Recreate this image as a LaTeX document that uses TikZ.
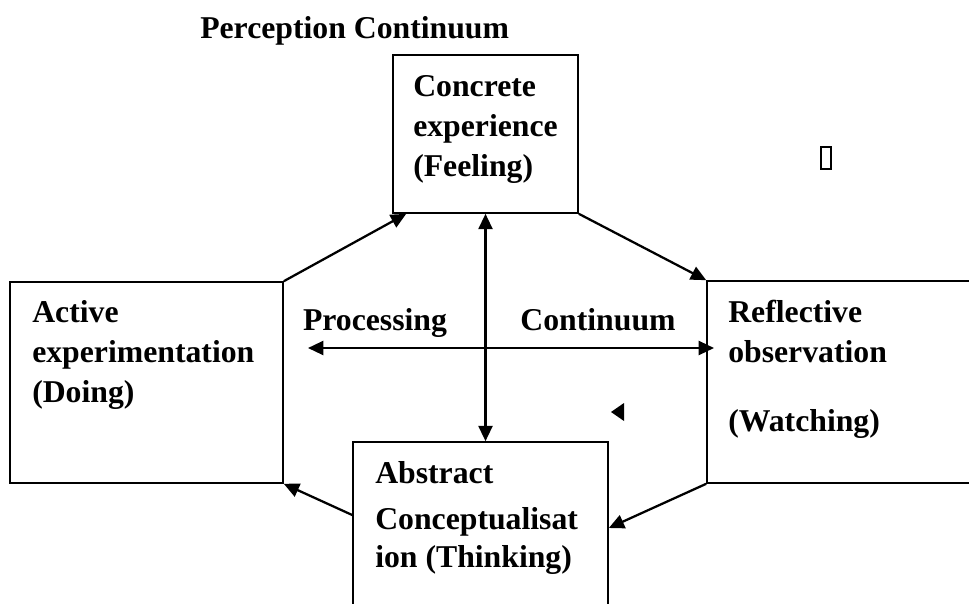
\documentclass[tikz,border=0pt]{standalone}
\usepackage{fontspec}
\setmainfont{Liberation Serif}
\usetikzlibrary{arrows.meta}

\begin{document}
\begin{tikzpicture}[x=0.75pt, y=-0.75pt,
  stage/.style={draw, line width=1.2pt, inner sep=0pt},
  lbl/.style={anchor=base west, inner sep=0pt, font=\fontsize{23.8}{30}\selectfont\bfseries},
  flow/.style={line width=1.7pt},
  >={Triangle[length=11.5pt, width=10.5pt]}]
\useasboundingbox (0,0) rectangle (969,603);
% the four stages
\node[stage, minimum width=138.75pt, minimum height=118.5pt] (ce) at (485.5,134){};
\node[stage, minimum width=204.75pt, minimum height=150.75pt] (ae) at (146.5,382.5){};
\node[stage, minimum width=212.25pt, minimum height=151.5pt] (ro) at (848.5,382){};
\node[stage, minimum width=191.25pt, minimum height=129pt] (ac) at (480.5,528){};
% texts
\node[lbl] (title) at (200,38){Perception Continuum};
\node[lbl] (ceText) at (413,96){\begin{tabular}[t]{@{}l@{}}Concrete\\experience\\(Feeling)\end{tabular}};
\node[lbl] (aeText) at (32,322){\begin{tabular}[t]{@{}l@{}}Active\\experimentation\\(Doing)\end{tabular}};
\node[lbl] (roText) at (728,322){\begin{tabular}[t]{@{}l@{}}Reflective\\observation\\[21.75pt](Watching)\end{tabular}};
\node[lbl] (acText) at (375,483){\begin{tabular}[t]{@{}l@{}}Abstract\\[5pt]Conceptualisat\\[-1.5pt]ion (Thinking)\end{tabular}};
\node[lbl, anchor=base] (proc) at (375,330){Processing};
\node[lbl, anchor=base] (cont) at (598,330){Continuum};
% cycle
\draw[flow, ->](ae.north east) -- ([xshift=10.5pt]ce.south west);
\draw[flow, ->](ce.south east) -- (ro.north west);
\draw[flow, ->](ro.south west) -- (ac.east);
\draw[flow, ->]([yshift=9.75pt]ac.west) -- (ae.south east);
% continua
\coordinate (procL) at (308,348);
\coordinate (procR) at (714,348);
\draw[flow, <->](procL) -- (procR);
\draw[flow, <->](ce.south) -- (ce.south |- ac.north);
% stray marks
\draw[line width=1.1pt] (821,147) rectangle (831,169);
\fill (611,412) -- (624,403) -- (624,421) -- cycle;
\end{tikzpicture}
\end{document}
